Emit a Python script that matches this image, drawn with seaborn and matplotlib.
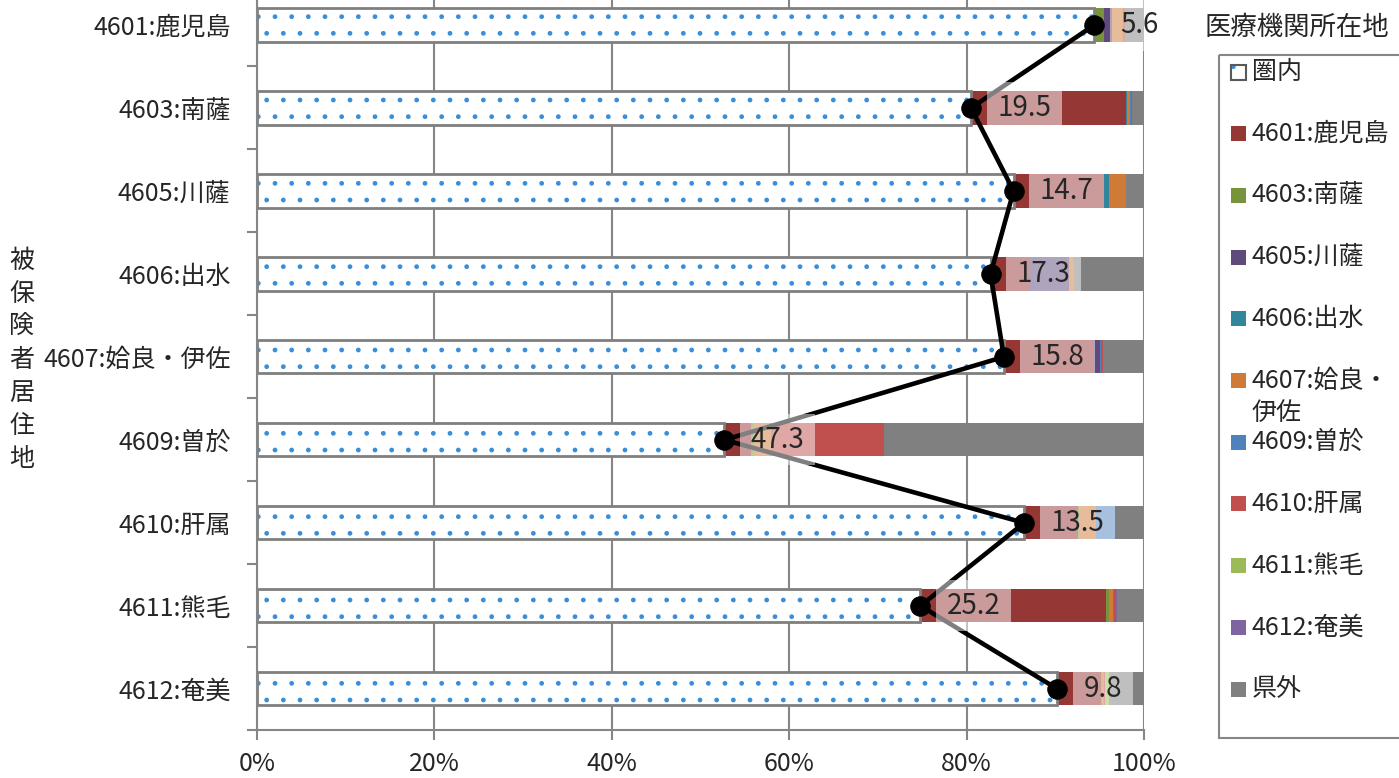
import numpy as np
import matplotlib
matplotlib.use("Agg")
import matplotlib.pyplot as plt
import seaborn as sns
from matplotlib.patches import Rectangle

# ---- data (percent of insured persons by location of medical institution) ----
areas = ["4601:鹿児島", "4603:南薩", "4605:川薩", "4606:出水", "4607:姶良・伊佐",
         "4609:曽於", "4610:肝属", "4611:熊毛", "4612:奄美"]
series = ["圏内", "4601:鹿児島", "4603:南薩", "4605:川薩", "4606:出水", "4607:姶良・\n伊佐",
          "4609:曽於", "4610:肝属", "4611:熊毛", "4612:奄美", "県外"]

kennai     = [94.4, 80.5, 85.3, 82.7, 84.2, 52.7, 86.5, 74.8, 90.2]
kagoshima  = [0.0, 17.5, 10.2, 4.5, 10.2, 3.0, 6.1, 20.9, 5.0]
nansatsu   = [1.1, 0.0, 0.0, 0.0, 0.0, 0.3, 0.1, 0.3, 0.1]
sensatsu   = [0.9, 0.0, 0.0, 4.3, 0.6, 0.0, 0.0, 0.0, 0.0]
izumi      = [0.0, 0.1, 0.5, 0.0, 0.0, 0.0, 0.0, 0.0, 0.0]
aira_isa   = [1.2, 0.3, 2.0, 0.6, 0.0, 2.0, 1.9, 0.5, 0.2]
soo        = [0.0, 0.1, 0.0, 0.0, 0.2, 0.0, 2.1, 0.1, 0.0]
kimotsuki  = [0.3, 0.1, 0.0, 0.0, 0.2, 12.7, 0.0, 0.2, 0.1]
kumage     = [0.0, 0.0, 0.0, 0.0, 0.0, 0.0, 0.0, 0.0, 0.5]
amami      = [0.0, 0.0, 0.0, 0.0, 0.0, 0.0, 0.0, 0.1, 0.0]
kengai     = [2.1, 1.4, 2.0, 7.9, 4.6, 29.3, 3.3, 3.1, 3.9]

colors = ["white", "#953735", "#77933C", "#604A7B", "#31859C", "#D07A37",
          "#4F81BD", "#C0504D", "#9BBB59", "#8064A2", "#808080"]
DOT_BLUE = "#3A8ED8"
GRAY = "#868686"

sns.set_style("white")
plt.rcParams["font.family"] = ["Noto Sans CJK JP", "DejaVu Sans"]

values = np.array([kennai, kagoshima, nansatsu, sensatsu, izumi, aira_isa,
                   soo, kimotsuki, kumage, amami, kengai])
cum = np.cumsum(values, axis=0)
ypos = np.arange(len(areas))

fig = plt.figure(figsize=(13.99, 7.78), dpi=100)
ax = fig.add_axes([257 / 1399, 47.7 / 778, 887 / 1399, 746.8 / 778])

# stacked bars: draw cumulative totals from the outermost series inwards
for i in range(len(series) - 1, 0, -1):
    sns.barplot(x=cum[i], y=areas, color=colors[i], orient="y", width=0.4,
                saturation=1, linewidth=0, errorbar=None, ax=ax)

# 圏内 : white with blue dots and a grey outline
sns.barplot(x=kennai, y=areas, color="white", orient="y", width=0.4,
            saturation=1, linewidth=0, errorbar=None, ax=ax)
for p in ax.containers[-1]:
    p.set_hatch(".")
    p.set_edgecolor(DOT_BLUE)
    p.set_linewidth(0)
sns.barplot(x=kennai, y=areas, fill=False, color="#7F7F7F", orient="y", width=0.4,
            saturation=1, linewidth=2, errorbar=None, ax=ax)

# line through the 圏内 share
sns.lineplot(x=kennai, y=ypos, sort=False, estimator=None, color="black",
             linewidth=3.3, marker="o", markersize=14, markeredgecolor="black", ax=ax)

# outflow labels (100 - 圏内) with half-transparent white boxes
for xv, yv in zip(kennai, ypos):
    ax.annotate(f"{100 - xv:.1f}", xy=(xv, yv), xytext=(19, 0), textcoords="offset points",
                ha="left", va="center", fontsize=20, zorder=5,
                bbox=dict(boxstyle="square,pad=0.38", fc="white", ec="none", alpha=0.5))

ax.set_xlim(0, 100)
ax.set_ylim(len(areas) - 0.5, -0.5)
ax.set_xticks(range(0, 101, 20), labels=[f"{v}%" for v in range(0, 101, 20)])
ax.set_yticks(ypos, labels=areas)
ax.set_yticks(np.arange(-0.5, len(areas), 1), minor=True)
ax.tick_params(axis="y", which="major", length=0, pad=19, labelsize=18)
ax.tick_params(axis="y", which="minor", length=7, width=1.5, color=GRAY, left=True)
ax.tick_params(axis="x", which="major", length=7, width=1.5, color=GRAY, bottom=True,
               pad=8, labelsize=18)
ax.set_xlabel("")
ax.grid(axis="x", color=GRAY, linewidth=1.5)
ax.grid(axis="y", visible=False)
ax.set_axisbelow(True)
for side in ["top", "right"]:
    ax.spines[side].set_visible(False)
for side in ["left", "bottom"]:
    ax.spines[side].set_color(GRAY)
    ax.spines[side].set_linewidth(1.5)

ax.set_ylabel("\n".join("被保険者居住地"), rotation=0, fontsize=18, linespacing=1.35,
              ha="center", va="center")
ax.yaxis.set_label_coords(-0.265, 0.496)

# legend (drawn in figure pixel space so the wrapped entry keeps the spacing)
lax = fig.add_axes([0, 0, 1, 1], zorder=10)
lax.set_xlim(0, 1399)
lax.set_ylim(778, 0)
lax.axis("off")
lax.text(1297, 27, "医療機関所在地", ha="center", va="center", fontsize=19)
lax.add_patch(Rectangle((1219, 55), 200, 683, fc="none", ec=GRAY, lw=1.5))
for k, (lab, col) in enumerate(zip(series, colors)):
    yk = 72 + k * 61.7
    if k == 0:
        lax.add_patch(Rectangle((1231, yk - 7.5), 15, 15, fc="white", ec=DOT_BLUE,
                                lw=0, hatch="."))
        lax.add_patch(Rectangle((1231, yk - 7.5), 15, 15, fc="none", ec="#595959", lw=1.5))
    else:
        lax.add_patch(Rectangle((1231, yk - 7.5), 15, 15, fc=col, ec="none"))
    for j, line in enumerate(lab.split("\n")):
        lax.text(1252, yk + j * 32, line, ha="left", va="center", fontsize=18)

fig.savefig("out.png", dpi=100)
